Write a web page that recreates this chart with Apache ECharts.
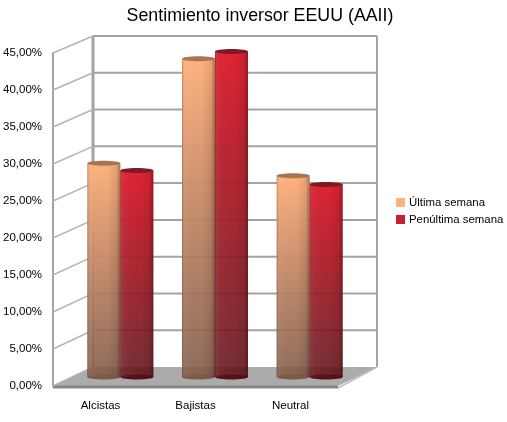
<!DOCTYPE html>
<html><head><meta charset="utf-8">
<style>html,body{margin:0;padding:0;background:#fff}#c{width:507px;height:422px}</style>
<script src="https://cdn.jsdelivr.net/npm/echarts@6/dist/echarts.min.js"></script>
</head><body><div id="c"></div>
<script>
const titleText = 'Sentimiento inversor EEUU (AAII)';
const categories = ['Alcistas', 'Bajistas', 'Neutral'];
const ultimaSemana = [28.9, 43.0, 27.2];
const penultimaSemana = [27.9, 44.0, 26.0];
const yTicks = [0, 5, 10, 15, 20, 25, 30, 35, 40, 45];
const seriesNames = ['Última semana', 'Penúltima semana'];

const FONT = '"Liberation Sans", Arial, sans-serif';
const depthX = 40, depthY = -19;   // oblique wall depth
const backScale = 331 / 333;       // back wall is slightly shorter than the front plane
const GREY = '#a3a3a3';

const chart = echarts.init(document.getElementById('c'), null, {renderer: 'canvas'});

function vGrad(top, bottom) {
  return {type: 'linear', x: 0, y: 0, x2: 0, y2: 1, colorStops: [
    {offset: 0, color: top}, {offset: 1, color: bottom}]};
}
const barFill = [
  vGrad('#ffb27f', 'rgba(128,88,70,0.88)'),
  vGrad('#df2333', 'rgba(98,18,24,0.88)')
];
const capFill = ['#a87552', '#7d1a24'];
const baseFill = ['#7e5a47', '#57101a'];

// walls, grid lines and floor, projected from the value axis
function renderWall(params, api) {
  const v = api.value(0);
  const cs = params.coordSys;
  const y = api.coord([0, v])[1];
  const y0 = cs.y + cs.height;
  const x0 = cs.x, x1 = cs.x + cs.width;
  const bx0 = x0 + depthX, bx1 = x1 + depthX - 1;
  const by = y0 + depthY - (y0 - y) * backScale;
  const kids = [];
  const line = (a, b, c, d, w, col) => ({type: 'line',
    shape: {x1: a, y1: b, x2: c, y2: d}, style: {stroke: col, lineWidth: w}});
  if (v === 0) {
    const topBack = y0 + depthY - cs.height * backScale;
    kids.push({type: 'polygon', shape: {points: [[x0, y], [x1, y], [bx1, by], [bx0, by]]},
      style: {fill: '#ababab'}});
    kids.push(line(x0, y + 1, x1, y + 1, 3, '#868686'));
    kids.push(line(bx1, by, bx1, topBack, 2, GREY));
    kids.push(line(bx0, by, bx0, topBack, 3, GREY));
    kids.push(line(x1, y + 2, bx1, by, 1.5, '#bdbdbd'));
  } else {
    kids.push(line(bx0, by, bx1, by, 2, GREY));
  }
  kids.push(line(x0, y, bx0, by, 1.5, '#b4b4b4'));
  return {type: 'group', children: kids};
}

// cylinder shading and elliptical ends for each bar
function renderCylinder(params, api) {
  const cat = api.value(0), val = api.value(1), s = api.value(2);
  const bw = 33;
  const top = api.coord([cat, val]);
  const base = api.coord([cat, 0]);
  const x = top[0] + (s === 0 ? -bw : 0);
  const edge = {type: 'linear', x: 0, y: 0, x2: 1, y2: 0, colorStops: [
    {offset: 0, color: 'rgba(60,20,10,0.28)'},
    {offset: 0.1, color: 'rgba(255,255,255,0.03)'},
    {offset: 0.6, color: 'rgba(0,0,0,0)'},
    {offset: 0.88, color: 'rgba(40,10,10,0.10)'},
    {offset: 1, color: 'rgba(40,0,0,0.38)'}]};
  return {type: 'group', children: [
    {type: 'ellipse', shape: {cx: x + bw / 2, cy: base[1], rx: bw / 2, ry: 2.5},
      style: {fill: baseFill[s]}},
    {type: 'rect', shape: {x: x, y: top[1], width: bw, height: base[1] - top[1]},
      style: {fill: edge}},
    {type: 'ellipse', shape: {cx: x + bw / 2, cy: top[1], rx: bw / 2, ry: 2.5},
      style: {fill: capFill[s]}}
  ]};
}

function cylinderData(values, s) {
  return values.map((v, i) => [i, v, s]);
}

function barSeries(name, values, s) {
  return {name: name, type: 'bar', xAxisIndex: 1, yAxisIndex: 1, data: values,
    barWidth: 33, barGap: '0%', z: 3, itemStyle: {color: barFill[s]}};
}

chart.setOption({
  animation: false,
  backgroundColor: '#fff',
  title: {text: titleText, left: 255, top: 2, textAlign: 'center',
    textStyle: {fontFamily: FONT, fontSize: 17.8, fontWeight: 'normal', color: '#000'}},
  legend: {orient: 'vertical', left: 391, top: 192, itemWidth: 9, itemHeight: 9, itemGap: 6,
    icon: 'rect', selectedMode: false,
    textStyle: {fontFamily: FONT, fontSize: 11.4, color: '#000', padding: [0, 0, 0, -1]},
    data: [
      {name: seriesNames[0], itemStyle: {color: '#ffb27f'}},
      {name: seriesNames[1], itemStyle: {color: '#c8202e'}}
    ]},
  grid: [
    {left: 53, top: 53, width: 285, height: 333},
    {left: 73, top: 44, width: 284, height: 333}
  ],
  xAxis: [
    {type: 'category', gridIndex: 0, data: categories,
      axisLine: {show: false}, axisTick: {show: false},
      axisLabel: {fontFamily: FONT, fontSize: 11.5, color: '#000', margin: 14}},
    {type: 'category', gridIndex: 1, data: categories, show: false}
  ],
  yAxis: [
    {type: 'value', gridIndex: 0, min: 0, max: 45, interval: 5,
      axisLine: {show: true, lineStyle: {color: GREY, width: 2}}, axisTick: {show: false},
      splitLine: {show: false},
      axisLabel: {fontFamily: FONT, fontSize: 11.5, color: '#000', margin: 11, padding: [4, 0, 0, 0],
        formatter: v => v.toFixed(2).replace('.', ',') + '%'}},
    {type: 'value', gridIndex: 1, min: 0, max: 45, interval: 5, show: false}
  ],
  series: [
    {type: 'custom', xAxisIndex: 0, yAxisIndex: 0, z: 1, silent: true, clip: false,
      renderItem: renderWall, data: yTicks.map(v => [v]), encode: {y: 0}},
    barSeries(seriesNames[0], ultimaSemana, 0),
    barSeries(seriesNames[1], penultimaSemana, 1),
    {type: 'custom', xAxisIndex: 1, yAxisIndex: 1, z: 4, silent: true, clip: false,
      renderItem: renderCylinder, data: cylinderData(ultimaSemana, 0), encode: {x: 0, y: 1}},
    {type: 'custom', xAxisIndex: 1, yAxisIndex: 1, z: 4, silent: true, clip: false,
      renderItem: renderCylinder, data: cylinderData(penultimaSemana, 1), encode: {x: 0, y: 1}}
  ]
});
</script></body></html>
